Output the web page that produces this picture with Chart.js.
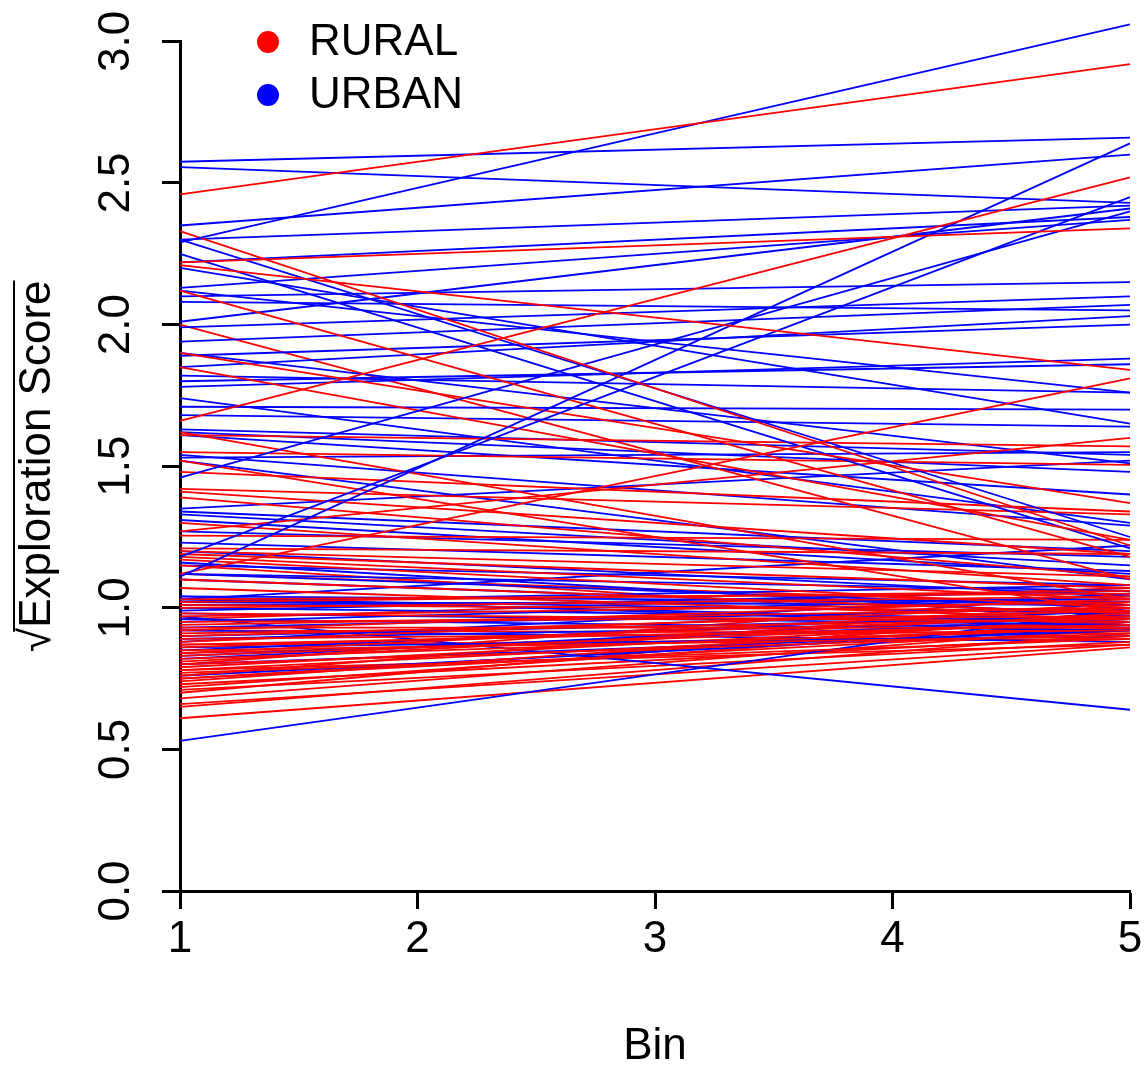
<!DOCTYPE html>
<html>
<head>
<meta charset="utf-8">
<script src="https://cdn.jsdelivr.net/npm/chart.js@4.4.1/dist/chart.umd.min.js"></script>
<style>
  html, body { margin: 0; padding: 0; background: #fff; }
  #chart { display: block; }
</style>
</head>
<body>
<canvas id="chart" width="1147" height="1066"></canvas>
<script>
// bins where each subject's fitted line starts and ends
const bins = [1, 5];
const xTicks = [1, 2, 3, 4, 5];
const yTicks = [0, 0.5, 1, 1.5, 2, 2.5, 3];

const legendLabels = ['RURAL', 'URBAN'];
const legendColors = ['#ff0000', '#0000ff'];

// sqrt exploration score at bin 1 and bin 5
const ruralStart = [2.46, 1.66, 2.22, 2.33, 2.21, 1.12, 2.12, 1.90, 1.85, 1.61,
  1.55, 1.48, 1.42, 1.41, 1.39, 1.27, 1.255, 1.21, 1.20, 1.19,
  1.18, 1.17, 1.10, 1.07, 1.03, 1.62, 1.52, 1.30, 2.00, 1.02,
  1.01, 1.00, 0.98, 0.97, 0.95, 0.94, 0.93, 0.92, 0.91, 0.90,
  0.89, 0.88, 0.87, 0.86, 0.85, 0.84, 0.83, 0.82, 0.81, 0.80,
  0.79, 0.78, 0.77, 0.76, 0.75, 0.74, 0.73, 0.72, 0.71, 0.68,
  0.66, 0.65, 0.61, 0.70, 0.80, 0.87, 0.84, 0.78, 0.75, 0.92,
  1.15, 1.12, 0.96];
const ruralEnd = [2.92, 2.52, 2.34, 1.22, 1.84, 1.81, 1.18, 1.37, 1.24, 1.57,
  1.505, 1.34, 1.33, 1.19, 1.11, 1.60, 1.24, 1.19, 1.11, 1.07,
  1.03, 1.00, 0.98, 0.96, 1.05, 1.03, 0.98, 1.08, 1.10, 1.06,
  0.99, 1.04, 0.95, 1.02, 0.97, 1.00, 0.93, 1.03, 0.96, 0.99,
  0.92, 1.01, 0.94, 0.97, 0.90, 1.00, 0.95, 0.93, 0.98, 0.91,
  0.96, 0.94, 0.89, 1.02, 0.92, 0.97, 0.90, 0.95, 0.88, 0.93,
  0.87, 0.91, 0.86, 0.99, 1.05, 0.89, 0.92, 0.87, 0.95, 0.91,
  0.94, 1.01, 1.07];

const urbanStart = [2.29, 2.575, 2.556, 2.35, 1.11, 1.18, 1.46, 2.30, 2.25, 2.30,
  2.22, 2.13, 2.01, 2.10, 2.08, 1.99, 1.94, 1.85, 1.89, 1.78,
  1.80, 2.12, 1.82, 1.71, 2.20, 1.68, 1.63, 1.90, 1.62, 1.61,
  1.54, 1.53, 1.35, 1.34, 1.33, 1.31, 1.74, 1.52, 1.20, 1.12,
  1.12, 1.10, 1.04, 1.03, 1.02, 0.98, 0.96, 0.93, 0.90, 0.86,
  0.83, 0.80, 0.53, 0.97, 1.01, 0.88, 0.76, 1.03, 0.85, 1.23,
  1.16, 0.92, 1.03, 1.02, 1.00, 1.04, 0.95, 0.89, 0.82, 1.27,
  1.15, 0.99];
const urbanEnd = [3.06, 2.66, 2.43, 2.60, 2.64, 2.45, 2.40, 1.25, 1.21, 2.42,
  2.38, 2.37, 2.41, 2.15, 2.05, 2.10, 2.07, 2.03, 2.00, 1.88,
  1.86, 1.76, 1.76, 1.70, 1.65, 1.64, 1.54, 1.51, 1.48, 1.40,
  1.29, 1.55, 1.52, 1.20, 1.15, 1.12, 1.30, 1.10, 1.04, 1.00,
  1.06, 0.98, 1.02, 0.95, 1.08, 0.94, 0.92, 1.00, 0.97, 0.90,
  0.96, 0.92, 1.00, 0.64, 1.03, 1.05, 0.93, 1.22, 0.99, 1.13,
  0.97, 0.88, 0.98, 1.01, 0.96, 0.93, 1.04, 0.95, 0.98, 1.18,
  1.08, 1.06];

const FONT = 'Liberation Sans, Arial, sans-serif';
const FS = 44;

function lineSet(start, end, color) {
  return {
    data: [{ x: bins[0], y: start }, { x: bins[1], y: end }],
    borderColor: color,
    borderWidth: 1.8,
    pointRadius: 0,
    tension: 0,
    fill: false,
    clip: false
  };
}

// interleave the two groups so neither colour sits entirely on top
const datasets = [];
const n = Math.max(ruralStart.length, urbanStart.length);
for (let i = 0; i < n; i++) {
  if (i < ruralStart.length) datasets.push(lineSet(ruralStart[i], ruralEnd[i], legendColors[0]));
  if (i < urbanStart.length) datasets.push(lineSet(urbanStart[i], urbanEnd[i], legendColors[1]));
}

// legend in the top-left corner of the plot, R style
const legendPlugin = {
  id: 'rLegend',
  afterDraw(chart) {
    const ctx = chart.ctx;
    ctx.save();
    ctx.font = FS + 'px ' + FONT;
    ctx.textBaseline = 'middle';
    ctx.textAlign = 'left';
    legendLabels.forEach((lab, i) => {
      const y = 42 + i * 53;
      ctx.fillStyle = legendColors[i];
      ctx.beginPath();
      ctx.arc(268, y, 11, 0, Math.PI * 2);
      ctx.fill();
      ctx.fillStyle = '#000';
      ctx.fillText(lab, 309, y + 1);
    });
    ctx.restore();
  }
};

// vinculum over the y title so it reads as a square root
const sqrtBar = {
  id: 'sqrtBar',
  afterDraw(chart) {
    const ys = chart.scales.y;
    const t = ys.options.title;
    const ctx = chart.ctx;
    ctx.save();
    ctx.font = FS + 'px ' + FONT;
    const w = ctx.measureText(t.text).width;
    const w1 = ctx.measureText('\u221A').width;
    const cx = ys.left + FS / 2 + t.padding.top;
    const cy = (ys.top + ys.bottom) / 2;
    ctx.strokeStyle = '#000';
    ctx.lineWidth = 2;
    ctx.beginPath();
    ctx.moveTo(cx - 24, cy + w / 2 - w1 + 4);
    ctx.lineTo(cx - 24, cy - w / 2);
    ctx.stroke();
    ctx.restore();
  }
};

new Chart(document.getElementById('chart'), {
  type: 'line',
  data: { datasets: datasets },
  options: {
    responsive: false,
    animation: false,
    devicePixelRatio: 1,
    layout: { padding: { top: 40, right: 17, left: 0, bottom: 0 } },
    plugins: {
      legend: { display: false },
      tooltip: { enabled: false }
    },
    scales: {
      x: {
        type: 'linear',
        min: 1,
        max: 5,
        afterBuildTicks: s => { s.ticks = xTicks.map(v => ({ value: v })); },
        afterFit: s => { s.height = 175; },
        ticks: {
          color: '#000',
          font: { family: FONT, size: FS },
          padding: 4,
          maxRotation: 0,
          autoSkip: false,
          callback: v => String(v)
        },
        grid: { drawOnChartArea: false, tickLength: 18, tickWidth: 3, tickColor: '#000' },
        border: { color: '#000', width: 3 },
        title: {
          display: true,
          text: 'Bin',
          color: '#000',
          font: { family: FONT, size: FS, lineHeight: 0.85 },
          padding: { top: 0, bottom: 0 }
        }
      },
      y: {
        min: 0,
        max: 3,
        afterBuildTicks: s => { s.ticks = yTicks.map(v => ({ value: v })); },
        afterFit: s => { s.width = 180; },
        ticks: {
          color: '#000',
          font: { family: FONT, size: FS },
          padding: 15,
          minRotation: 90,
          maxRotation: 90,
          crossAlign: 'center',
          autoSkip: false,
          callback: v => v.toFixed(1)
        },
        grid: { drawOnChartArea: false, tickLength: 18, tickWidth: 3, tickColor: '#000' },
        border: { color: '#000', width: 3 },
        title: {
          display: true,
          text: '\u221AExploration Score',
          color: '#000',
          font: { family: FONT, size: FS, lineHeight: 1 },
          padding: { top: 16, bottom: 0 }
        }
      }
    }
  },
  plugins: [legendPlugin, sqrtBar]
});
</script>
</body>
</html>
